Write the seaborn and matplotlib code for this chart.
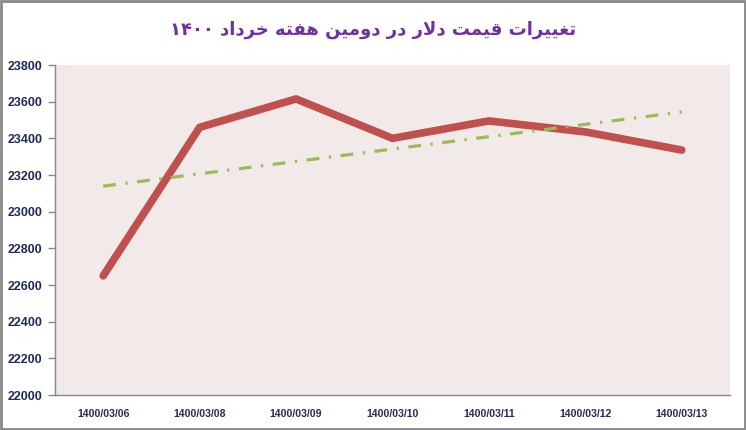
import numpy as np
import pandas as pd
import matplotlib
matplotlib.use("Agg")
import matplotlib.pyplot as plt
import seaborn as sns
from matplotlib.patches import Rectangle

# data
dates = ['1400/03/06', '1400/03/08', '1400/03/09', '1400/03/10',
         '1400/03/11', '1400/03/12', '1400/03/13']
prices = [22650, 23460, 23615, 23400, 23495, 23435, 23336]
title_words = ['تغییرات', 'قیمت', 'دلار', 'در', 'دومین', 'هفته', 'خرداد', '۱۴۰۰']

# minimal arabic/persian shaping (matplotlib draws left to right, no shaping)
FORMS = {  # isolated, final, initial, medial
    'ا': ('\uFE8D', '\uFE8E', None, None),
    'ت': ('\uFE95', '\uFE96', '\uFE97', '\uFE98'),
    'خ': ('\uFEA5', '\uFEA6', '\uFEA7', '\uFEA8'),
    'د': ('\uFEA9', '\uFEAA', None, None),
    'ر': ('\uFEAD', '\uFEAE', None, None),
    'غ': ('\uFECD', '\uFECE', '\uFECF', '\uFED0'),
    'ف': ('\uFED1', '\uFED2', '\uFED3', '\uFED4'),
    'ق': ('\uFED5', '\uFED6', '\uFED7', '\uFED8'),
    'ل': ('\uFEDD', '\uFEDE', '\uFEDF', '\uFEE0'),
    'م': ('\uFEE1', '\uFEE2', '\uFEE3', '\uFEE4'),
    'ن': ('\uFEE5', '\uFEE6', '\uFEE7', '\uFEE8'),
    'ه': ('\uFEE9', '\uFEEA', '\uFEEB', '\uFEEC'),
    'و': ('\uFEED', '\uFEEE', None, None),
    'ی': ('\uFBFC', '\uFBFD', '\uFEF3', '\uFEF4'),
}


def shape(word):
    if word[0] not in FORMS:
        return word
    out = []
    i = 0
    while i < len(word):
        c = word[i]
        prev_joins = i > 0 and FORMS[word[i - 1]][2] is not None
        if c == 'ل' and i + 1 < len(word) and word[i + 1] == 'ا':
            out.append('\uFEFC' if prev_joins else '\uFEFB')
            i += 2
            continue
        next_joins = FORMS[c][2] is not None and i + 1 < len(word)
        iso, fin, ini, med = FORMS[c]
        if prev_joins and next_joins:
            out.append(med)
        elif prev_joins:
            out.append(fin)
        elif next_joins:
            out.append(ini)
        else:
            out.append(iso)
        i += 1
    return ''.join(out[::-1])


title = ' '.join(shape(w) for w in reversed(title_words))

df = pd.DataFrame({'date': dates, 'price': prices, 'pos': np.arange(len(dates))})
coef = np.polyfit(df['pos'], df['price'], 1)
df['trend'] = np.polyval(coef, df['pos'])

sns.set_theme(style='white')
plt.rcParams['font.family'] = ['Liberation Sans', 'DejaVu Sans']

fig = plt.figure(figsize=(7.46, 4.30), dpi=100)
ax = fig.add_axes([55 / 746, 1 - 395 / 430, 675 / 746, 330 / 430])
ax.set_facecolor('#F2E9E9')

sns.lineplot(data=df, x='pos', y='price', ax=ax, color='#C0504D', linewidth=5.5,
             solid_capstyle='round', solid_joinstyle='round')
sns.lineplot(data=df, x='pos', y='trend', ax=ax, color='#9BBB59', linewidth=2.3,
             linestyle=(0, (4, 3, 0.7, 3)))

ax.set_xlim(-0.5, len(dates) - 0.5)
ax.set_ylim(22000, 23800)
ax.set_yticks(np.arange(22000, 23801, 200))
ax.set_yticklabels([str(v) for v in range(22000, 23801, 200)],
                   fontsize=9, fontweight='bold', color='#1F2A5A')
ax.set_xticks(np.arange(len(dates)))
ax.set_xticklabels(dates, fontsize=7.6, fontweight='bold', color='#302850')
ax.set_xticks(np.arange(-0.5, len(dates)), minor=True)
ax.tick_params(axis='x', which='major', length=0, pad=10)
ax.tick_params(axis='x', which='minor', length=5, width=1, color='#888888', direction='out')
ax.tick_params(axis='y', length=5, width=1, color='#888888', direction='out', pad=4,
               left=True)
ax.set_xlabel('')
ax.set_ylabel('')

for s in ['top', 'right']:
    ax.spines[s].set_visible(False)
for s in ['left', 'bottom']:
    ax.spines[s].set_color('#888888')
    ax.spines[s].set_linewidth(1)

fig.text(0.5, 1 - 30 / 430, title, ha='center', va='center', fontsize=13,
         fontweight='bold', color='#7030A0', family=['DejaVu Sans'])

fig.patches.append(Rectangle((0.001, 0.002), 0.997, 0.996, transform=fig.transFigure,
                             fill=False, edgecolor='#888888', linewidth=2))

fig.savefig('out.png', dpi=100)
